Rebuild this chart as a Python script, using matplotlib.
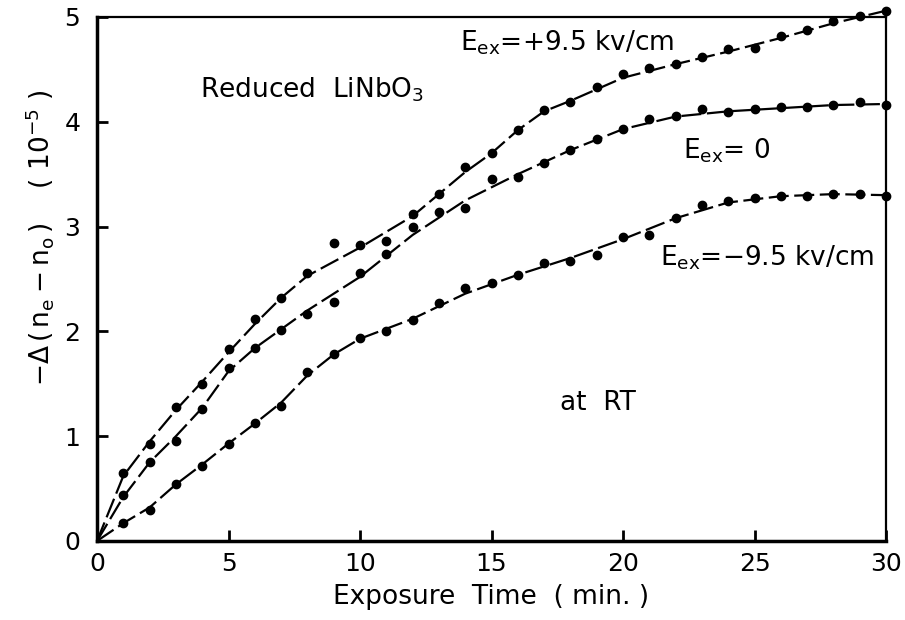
import matplotlib.pyplot as plt
import numpy as np

# measured points (exposure time in min, -delta(ne-no) in 1e-5)
t_pts = np.arange(1, 31)
pos_pts = [0.65, 0.93, 1.28, 1.50, 1.83, 2.12, 2.32, 2.56, 2.84, 2.82,
           2.86, 3.12, 3.31, 3.57, 3.70, 3.92, 4.11, 4.19, 4.33, 4.46,
           4.51, 4.55, 4.62, 4.69, 4.70, 4.82, 4.88, 4.96, 5.01, 5.06]
zero_pts = [0.44, 0.75, 0.95, 1.26, 1.65, 1.84, 2.01, 2.17, 2.28, 2.56,
            2.74, 3.00, 3.14, 3.18, 3.45, 3.47, 3.61, 3.73, 3.84, 3.93,
            4.03, 4.06, 4.12, 4.09, 4.12, 4.14, 4.14, 4.16, 4.19, 4.16]
neg_pts = [0.17, 0.30, 0.54, 0.72, 0.93, 1.13, 1.29, 1.61, 1.78, 1.94,
           2.00, 2.11, 2.27, 2.41, 2.46, 2.54, 2.65, 2.67, 2.73, 2.90,
           2.92, 3.08, 3.21, 3.24, 3.27, 3.29, 3.29, 3.31, 3.31, 3.29]

# hand-drawn trend lines
pos_cx = [0, 1, 2, 3, 4, 5, 6, 7, 8, 10, 12, 14, 15, 16, 17, 18, 20, 22, 24, 26, 28, 30]
pos_cy = [0, 0.62, 0.95, 1.25, 1.52, 1.80, 2.07, 2.32, 2.53, 2.80, 3.10, 3.52, 3.70,
          3.92, 4.10, 4.20, 4.42, 4.55, 4.67, 4.80, 4.94, 5.06]
zero_cx = [0, 1, 2, 3, 4, 5, 6, 7, 8, 10, 12, 14, 16, 18, 20, 22, 24, 26, 28, 30]
zero_cy = [0, 0.42, 0.75, 1.00, 1.27, 1.62, 1.84, 2.02, 2.20, 2.52, 2.92, 3.25,
           3.50, 3.73, 3.93, 4.05, 4.10, 4.13, 4.16, 4.17]
neg_cx = [0, 1, 2, 3, 4, 5, 6, 7, 8, 9, 10, 12, 14, 16, 18, 20, 22, 24, 26, 28, 30]
neg_cy = [0, 0.17, 0.32, 0.54, 0.73, 0.93, 1.12, 1.32, 1.58, 1.78, 1.93, 2.12,
          2.36, 2.54, 2.70, 2.88, 3.08, 3.23, 3.29, 3.31, 3.30]

fig = plt.figure(figsize=(9.05, 6.2), dpi=100)
ax = fig.add_axes([97/905, 1-541/620, 789/905, 524/620])

for cx, cy in [(pos_cx, pos_cy), (zero_cx, zero_cy), (neg_cx, neg_cy)]:
    ax.plot(cx, cy, color='black', lw=1.6, dashes=(9, 2.5), clip_on=False)
for py in [pos_pts, zero_pts, neg_pts]:
    ax.plot(t_pts, py, 'o', color='black', ms=6, clip_on=False, zorder=5)

ax.set_xlim(0, 30)
ax.set_ylim(0, 5)
ax.set_xticks([0, 5, 10, 15, 20, 25, 30])
ax.set_yticks([0, 1, 2, 3, 4, 5])
ax.tick_params(direction='in', length=8, width=2, labelsize=18, pad=8)
ax.tick_params(axis='y', pad=12)
for s in ['left', 'bottom']:
    ax.spines[s].set_linewidth(2.5)
for s in ['top', 'right']:
    ax.spines[s].set_linewidth(1.6)

ax.text(3.9, 4.23, 'Reduced  LiNbO$_3$', fontsize=19)
ax.text(13.8, 4.68, r'$\mathregular{E_{ex}}$=+9.5 kv/cm', fontsize=19)
ax.text(22.3, 3.65, r'$\mathregular{E_{ex}}$= 0', fontsize=19)
ax.text(21.4, 2.63, r'$\mathregular{E_{ex}}$=$-$9.5 kv/cm', fontsize=19)
ax.text(17.6, 1.25, 'at  RT', fontsize=19)

ax.set_xlabel('Exposure  Time  ( min. )', fontsize=19, labelpad=6)
fig.text(40/905, 1-238/620,
         r'$-\Delta\,(\,\mathregular{n_e - n_o}\,)$    ( 10$^{-5}$ )',
         fontsize=19, rotation=90, ha='center', va='center')

fig.savefig('out.png', dpi=100)
